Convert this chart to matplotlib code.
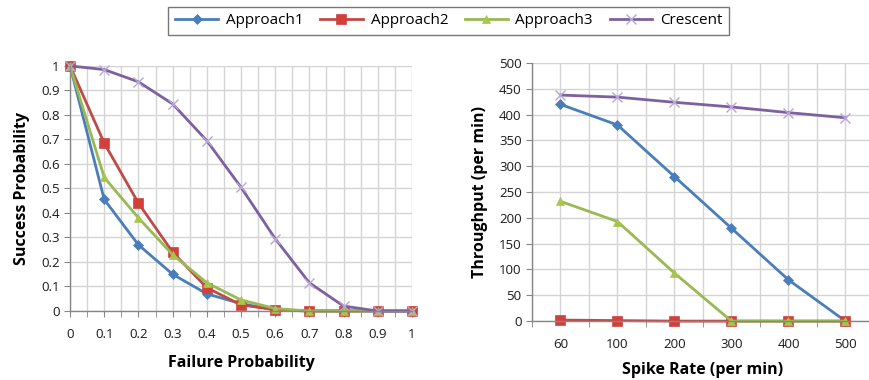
import matplotlib
matplotlib.use("Agg")
import matplotlib.pyplot as plt
import numpy as np

plt.rcParams['font.family'] = ['Open Sans', 'DejaVu Sans']

# Left panel: success probability vs failure probability
failure_prob = [0, 0.1, 0.2, 0.3, 0.4, 0.5, 0.6, 0.7, 0.8, 0.9, 1.0]
succ_approach1 = [1.0, 0.455, 0.27, 0.15, 0.07, 0.03, 0.005, 0.0, 0.0, 0.0, 0.0]
succ_approach2 = [1.0, 0.685, 0.44, 0.24, 0.095, 0.025, 0.005, 0.0, 0.0, 0.0, 0.0]
succ_approach3 = [1.0, 0.545, 0.38, 0.23, 0.115, 0.045, 0.01, 0.0, 0.0, 0.0, 0.0]
succ_crescent = [1.0, 0.985, 0.935, 0.845, 0.695, 0.505, 0.295, 0.115, 0.02, 0.0, 0.0]

# Right panel: throughput vs spike rate
spike_rates = ["60", "100", "200", "300", "400", "500"]
thr_approach1 = [420, 380, 280, 180, 80, 0]
thr_approach2 = [2, 1, 0, 0, 0, 0]
thr_approach3 = [232, 193, 93, 0, 0, 0]
thr_crescent = [438, 434, 424, 415, 404, 394]

series_names = ["Approach1", "Approach2", "Approach3", "Crescent"]
colors = ["#4A7EBB", "#BE4B48", "#98B954", "#7D60A0"]
marker_colors = ["#4A7EBB", "#D0413C", "#A6C64C", "#B9A6D8"]
markers = ["D", "s", "^", "x"]
msizes = [5, 7, 6, 7]

fig = plt.figure(figsize=(8.7, 3.8), dpi=100)
axL = fig.add_axes([0.0805, 0.1816, 0.393, 0.645])
axR = fig.add_axes([0.6115, 0.155, 0.393, 0.679])

grid_c = "#D4D4D4"
spine_c = "#868686"

def style_axes(ax):
    for s in ["top", "right"]:
        ax.spines[s].set_visible(False)
    for s in ["left", "bottom"]:
        ax.spines[s].set_color(spine_c)
        ax.spines[s].set_linewidth(1.0)
    ax.tick_params(axis="both", which="both", colors=spine_c, labelcolor="#1a1a1a",
                   labelsize=9.5, direction="out")
    ax.set_axisbelow(True)

# Left
left_series = [succ_approach1, succ_approach2, succ_approach3, succ_crescent]
handles = []
for ys, name, c, mc, m, ms in zip(left_series, series_names, colors, marker_colors, markers, msizes):
    h, = axL.plot(failure_prob, ys, color=c, lw=2, marker=m, ms=ms,
                  markerfacecolor=mc, markeredgecolor=mc, markeredgewidth=1.0 if m == "x" else 0.5,
                  label=name, clip_on=False)
    handles.append(h)
axL.set_xlim(0, 1)
axL.set_ylim(0, 1)
axL.set_xticks(np.arange(0, 1.01, 0.1))
axL.set_xticklabels(["0", "0.1", "0.2", "0.3", "0.4", "0.5", "0.6", "0.7", "0.8", "0.9", "1"])
axL.set_xticks(np.arange(0.05, 1.0, 0.1), minor=True)
axL.set_yticks(np.arange(0, 1.01, 0.1))
axL.set_yticklabels(["0", "0.1", "0.2", "0.3", "0.4", "0.5", "0.6", "0.7", "0.8", "0.9", "1"])
axL.grid(True, which="both", axis="x", color=grid_c, lw=1)
axL.grid(True, which="major", axis="y", color=grid_c, lw=1)
style_axes(axL)
axL.tick_params(axis="x", which="both", length=4, pad=8)
axL.tick_params(axis="y", length=4)
axL.set_xlabel("Failure Probability", fontsize=11.5, fontweight="bold", labelpad=10)
axL.set_ylabel("Success Probability", fontsize=11.5, fontweight="bold", labelpad=8)

# Right
xr = np.arange(len(spike_rates))
right_series = [thr_approach1, thr_approach2, thr_approach3, thr_crescent]
for ys, name, c, mc, m, ms in zip(right_series, series_names, colors, marker_colors, markers, msizes):
    axR.plot(xr, ys, color=c, lw=2, marker=m, ms=ms,
             markerfacecolor=mc, markeredgecolor=mc, markeredgewidth=1.0 if m == "x" else 0.5,
             clip_on=False)
axR.set_xlim(-0.5, len(spike_rates) - 0.5)
axR.set_ylim(0, 500)
axR.set_xticks(xr)
axR.set_xticklabels(spike_rates)
axR.set_xticks(np.arange(-0.5, len(spike_rates), 1.0), minor=True)
axR.set_yticks(np.arange(0, 501, 50))
axR.grid(True, which="both", axis="x", color=grid_c, lw=1)
axR.grid(True, which="major", axis="y", color=grid_c, lw=1)
style_axes(axR)
axR.tick_params(axis="x", which="major", length=0, pad=12)
axR.tick_params(axis="x", which="minor", length=4)
axR.tick_params(axis="y", length=4)
axR.set_xlabel("Spike Rate (per min)", fontsize=11.5, fontweight="bold", labelpad=8)
axR.set_ylabel("Throughput (per min)", fontsize=11.5, fontweight="bold", labelpad=8)

leg = fig.legend(handles=handles, labels=series_names, loc="center",
                 bbox_to_anchor=(0.516, 0.945), ncol=4, frameon=True, fancybox=False,
                 fontsize=11, handlelength=2.8, columnspacing=1.1, handletextpad=0.5,
                 borderpad=0.45)
leg.get_frame().set_edgecolor("#555555")
leg.get_frame().set_linewidth(1.0)

fig.savefig("out.png", dpi=100)
